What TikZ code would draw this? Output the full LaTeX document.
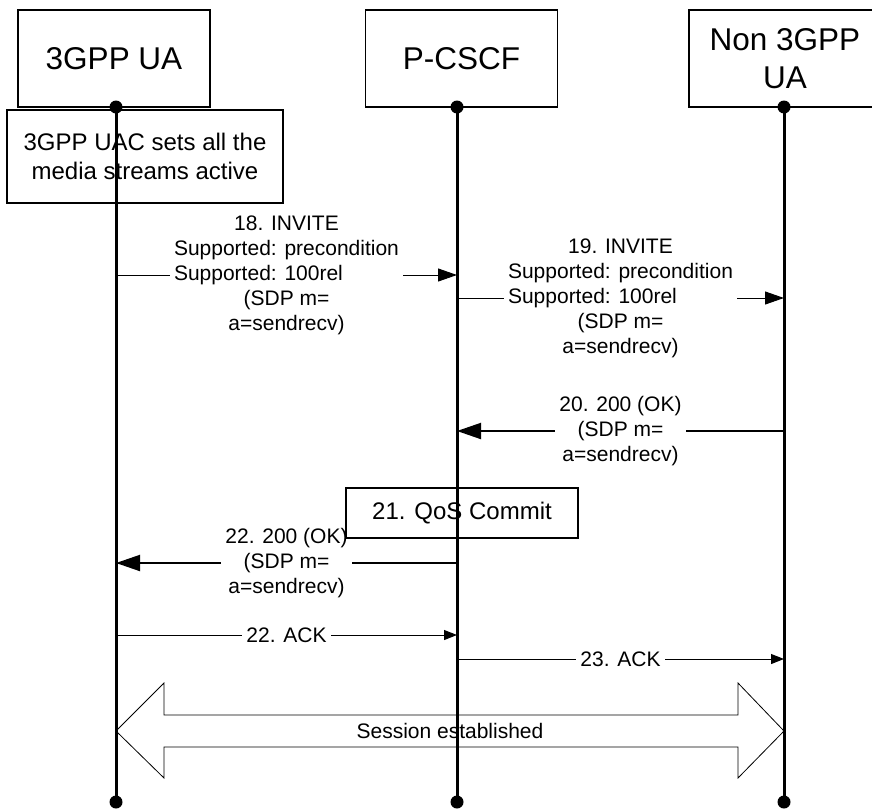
\documentclass[tikz,border=0pt]{standalone}
\usepackage{fontspec}
\setmainfont{Liberation Sans}
\usetikzlibrary{arrows.meta}
\begin{document}
\begin{tikzpicture}[x=1pt,y=-1pt,
  actor/.style={draw, line width=1.5pt, minimum width=192pt, minimum height=97pt, inner sep=0pt, font=\fontsize{31.5}{37.8}\selectfont, align=center},
  notebox/.style={draw, line width=1.5pt, inner sep=0pt, font=\fontsize{24}{28.8}\selectfont, align=center},
  lbl/.style={fill=white, inner xsep=4pt, inner ysep=1pt, font=\fontsize{21}{25}\selectfont, align=center},
  sesstext/.style={inner sep=0pt, font=\fontsize{21}{25}\selectfont},
  life/.style={line width=3pt},
  lifedot/.style={circle, fill=black, inner sep=0pt, minimum size=13pt},
  invmsg/.style={line width=1pt, -{Triangle[length=19pt,width=13pt]}},
  okmsg/.style={line width=2pt, -{Triangle[length=24pt,width=16pt]}},
  ackmsg/.style={line width=1pt, -{Triangle[length=13pt,width=10pt]}},
  sessarrow/.style={line width=0.8pt, line join=miter}
]
\path[use as bounding box] (0,0) rectangle (872,809);
\clip (0,0) rectangle (872,809);

% actors
\node[actor] (ua) at (114,58.5) {3GPP UA};
\node[actor] (pcscf) at (461.5,58.5) {P-CSCF};
\node[actor] (non) at (785,58.5) {Non 3GPP\\UA};
\node[notebox, minimum width=276pt, minimum height=93pt] (uac) at (145,156.5) {3GPP UAC sets all the\\media streams active};

% lifeline coordinates
\coordinate (l1t) at (116,107);
\coordinate (l1b) at (116,802);
\coordinate (l2t) at (457,107);
\coordinate (l2b) at (457,802);
\coordinate (l3t) at (784,107);
\coordinate (l3b) at (784,802);

% message end points
\coordinate (m18a) at (116,275);
\coordinate (m18b) at (457,275);
\coordinate (m19a) at (457,298);
\coordinate (m19b) at (784,298);
\coordinate (m20a) at (784,431);
\coordinate (m20b) at (457,431);
\coordinate (m22a) at (457,563);
\coordinate (m22b) at (116,563);
\coordinate (k22a) at (116,635);
\coordinate (k22b) at (457,635);
\coordinate (k23a) at (457,659);
\coordinate (k23b) at (784,659);

\draw[invmsg] (m18a) -- node[lbl] (t18) {18. INVITE\\Supported: precondition\\\rlap{Supported: 100rel}\phantom{Supported: precondition}\\(SDP m=\\a=sendrecv)} (m18b);
\draw[invmsg] (m19a) -- node[lbl] (t19) {19. INVITE\\Supported: precondition\\\rlap{Supported: 100rel}\phantom{Supported: precondition}\\(SDP m=\\a=sendrecv)} (m19b);
\draw[okmsg] (m20a) -- node[lbl] (t20) {20. 200 (OK)\\(SDP m=\\a=sendrecv)} (m20b);
\draw[okmsg] (m22a) -- node[lbl] (t22) {22. 200 (OK)\\(SDP m=\\a=sendrecv)} (m22b);
\draw[ackmsg] (k22a) -- node[lbl, inner ysep=0pt] (tk22) {22. ACK} (k22b);
\draw[ackmsg] (k23a) -- node[lbl, inner ysep=0pt] (tk23) {23. ACK} (k23b);

% QoS commit box
\node[notebox, minimum width=232pt, minimum height=50pt] (qos) at (462,513) {21. QoS Commit};

% session established double arrow
\coordinate (sl) at (116,731);
\coordinate (sr) at (784,731);
\draw[sessarrow] (sl) -- (164,683) -- (164,715) -- (738,715) -- (738,683) -- (sr)
  -- (738,778) -- (738,747) -- (164,747) -- (164,778) -- cycle;
\node[sesstext] (sess) at (450,731) {Session established};

% lifelines
\draw[life] (l1t) -- (l1b);
\draw[life] (l2t) -- (l2b);
\draw[life] (l3t) -- (l3b);
\node[lifedot] (d1t) at (l1t) {};
\node[lifedot] (d2t) at (l2t) {};
\node[lifedot] (d3t) at (l3t) {};
\node[lifedot] (d1b) at (l1b) {};
\node[lifedot] (d2b) at (l2b) {};
\node[lifedot] (d3b) at (l3b) {};
\end{tikzpicture}
\end{document}
